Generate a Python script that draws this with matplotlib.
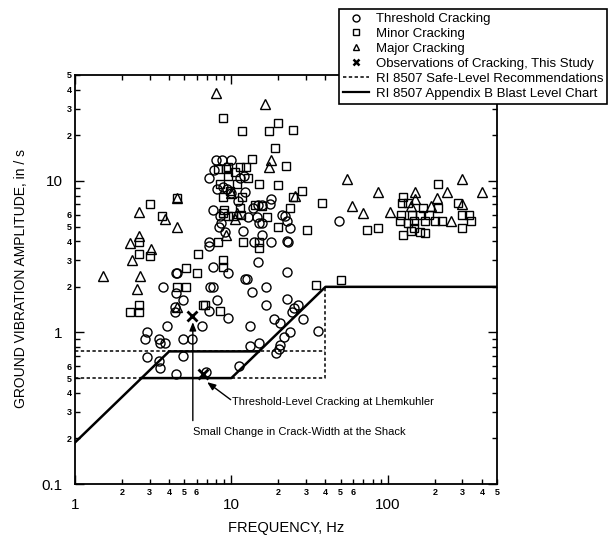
import numpy as np
import matplotlib
matplotlib.use("Agg")
import matplotlib.pyplot as plt
from matplotlib.lines import Line2D
from matplotlib.ticker import LogLocator, FuncFormatter

plt.rcParams['font.family'] = ['Liberation Sans', 'DejaVu Sans']

# (frequency Hz, amplitude in/s)
threshold = [
    (8.0, 13.8), (8.7, 13.8), (10.0, 13.8), (7.2, 10.5), (7.8, 11.8), (11.3, 10.5), (12.0, 10.8),
    (8.1, 8.9), (8.9, 9.1), (9.4, 8.8), (10.0, 8.3), (12.2, 8.5), (11.0, 7.4),
    (7.6, 6.4), (8.4, 5.9), (8.6, 5.3), (8.3, 5.0), (9.1, 4.6), (11.9, 4.7),
    (12.8, 5.8), (13.7, 6.6), (14.8, 6.9), (15.6, 6.9), (14.5, 5.8), (15.0, 5.3), (15.8, 5.3), (15.6, 4.4),
    (17.9, 7.6), (17.7, 7.0), (21.0, 6.0), (22.6, 5.4), (22.0, 5.9), (23.6, 4.9), (22.6, 4.0),
    (18.0, 3.95), (23.0, 3.95), (14.0, 3.95), (7.2, 3.95), (7.2, 3.7),
    (14.8, 2.9), (22.6, 2.5), (4.5, 2.45), (7.6, 2.7), (9.5, 2.45), (12.2, 2.25), (12.6, 2.25), (49, 5.4),
    (3.65, 2.0), (4.4, 2.45), (4.4, 1.83), (4.9, 1.64), (4.36, 1.47), (4.36, 1.36),
    (7.3, 2.0), (7.6, 2.0), (8.1, 1.64), (7.2, 1.39), (9.5, 1.25), (6.5, 1.1), (3.9, 1.1),
    (2.9, 1.0), (2.8, 0.9), (3.45, 0.9), (3.5, 0.85), (3.75, 0.85), (4.9, 0.9), (5.6, 0.9),
    (2.9, 0.69), (3.45, 0.65), (3.5, 0.58), (4.9, 0.7), (4.4, 0.53), (6.9, 0.55), (11.2, 0.6),
    (13.1, 0.81), (15.0, 0.85), (13.1, 1.1), (18.7, 1.22), (20.6, 1.16), (23.6, 1.0), (21.7, 0.93),
    (20.6, 0.83), (20.2, 0.78), (19.2, 0.73), (22.6, 1.66), (24.4, 1.36), (26.6, 1.52), (25.2, 1.44),
    (28.6, 1.22), (35.8, 1.02), (16.6, 1.52), (16.6, 2.0), (13.5, 1.86),
]

minor = [
    (2.25, 1.36), (2.56, 1.36), (2.56, 1.52), (2.56, 3.3), (2.56, 3.95), (3.0, 7.0), (3.6, 5.9),
    (4.5, 7.7), (3.0, 3.2), (6.1, 3.3), (5.1, 2.65), (6.0, 2.45), (4.5, 2.0), (5.1, 2.0),
    (6.6, 1.52), (6.8, 1.52), (8.4, 1.39), (8.8, 3.0), (8.8, 2.7), (8.2, 3.95), (11.8, 3.95),
    (15.0, 3.95), (15.0, 3.6), (8.8, 26), (11.7, 21.5), (17.5, 21.5), (20, 24), (19, 16.5),
    (13.5, 14), (22.3, 12.6), (20, 9.4), (15, 9.6), (28.5, 8.6), (24.7, 7.8), (24.7, 21.7),
    (23.6, 6.6), (30.3, 4.75), (19.8, 5.0), (17, 5.8), (15.7, 6.8), (14.1, 6.9),
    (9.5, 12.3), (11.3, 12.3), (12.4, 12.3), (8.2, 11.9), (9.3, 11.9), (10.5, 11.5), (8.4, 9.5),
    (9.5, 10.7), (10.8, 9.5), (12.8, 10.5), (8.8, 7.8), (11.7, 7.8), (8.9, 6.1), (9.5, 5.9),
    (10.3, 5.9), (11.5, 6.0), (9.0, 6.4), (11.3, 6.6), (35, 2.05), (50, 2.22), (38, 7.2), (9.8, 8.6),
    (74, 4.75), (87, 4.9), (210, 9.5), (125, 7.8), (123, 7.2), (134, 7.2), (167, 6.6), (209, 6.6),
    (121, 6.0), (142, 6.0), (119, 5.4), (134, 5.3), (148, 5.4), (172, 5.4), (200, 5.4), (224, 5.4),
    (300, 6.0), (330, 6.0), (340, 5.4), (300, 4.9), (280, 7.2), (125, 4.4), (148, 4.9), (172, 4.5),
    (160, 4.6), (185, 6.0), (160, 6.0), (140, 4.7),
]

major = [
    (8, 38), (16.5, 32), (18, 13.8), (17.5, 12.3), (2.55, 6.2), (3.75, 5.6), (4.5, 5.0), (4.5, 7.7),
    (2.25, 3.9), (2.55, 4.3), (3.05, 3.55), (2.3, 3.0), (1.5, 2.35), (2.6, 2.35), (2.5, 1.95),
    (4.5, 1.47), (10, 8.3), (10.8, 6.1), (9.3, 4.4), (10.5, 5.6), (25.5, 7.9),
    (55, 10.3), (87, 8.5), (59, 6.8), (70, 6.1), (104, 6.2), (150, 8.5), (150, 7.6), (188, 6.8),
    (208, 7.7), (238, 8.5), (297, 10.3), (297, 7.0), (400, 8.5), (255, 5.4), (140, 6.8),
]

study_f = [5.6, 6.6]
study_v = [1.28, 0.53]

# RI 8507 Appendix B blast level chart
blast_upper_f = [1, 4, 15]
blast_upper_v = [0.188, 0.75, 0.75]
blast_lower_f = [2.65, 10, 40, 500]
blast_lower_v = [0.5, 0.5, 2.0, 2.0]
# RI 8507 safe-level recommendations
safe_a_f = [1, 40, 40]
safe_a_v = [0.5, 0.5, 2.0]
safe_b_f = [1, 40]
safe_b_v = [0.75, 0.75]

fig = plt.figure(figsize=(6.13, 5.4), dpi=100)
ax = fig.add_axes([75 / 613, 56 / 540, 422 / 613, 409 / 540])
ax.set_xscale('log')
ax.set_yscale('log')
ax.set_xlim(1, 500)
ax.set_ylim(0.1, 50)

dash = (0, (2.2, 1.6))
ax.plot(safe_a_f, safe_a_v, color='black', lw=1.1, ls=dash)
ax.plot(safe_b_f, safe_b_v, color='black', lw=1.1, ls=dash)
ax.plot(blast_upper_f, blast_upper_v, color='black', lw=1.8)
ax.plot(blast_lower_f, blast_lower_v, color='black', lw=1.8)

mk = dict(ls='none', mfc='none', mec='black', mew=1.0)
ax.plot(*zip(*threshold), marker='o', ms=6.5, **mk)
ax.plot(*zip(*minor), marker='s', ms=6.2, **mk)
ax.plot(*zip(*major), marker='^', ms=6.5, **mk)
ax.plot(study_f, study_v, ls='none', marker='x', ms=7, mew=2.0, color='black')

ap = dict(arrowstyle='-|>,head_length=0.5,head_width=0.2', color='black', lw=1.0,
          shrinkA=0, shrinkB=0)
ax.annotate('', xy=(5.67, 1.17), xytext=(5.67, 0.262), arrowprops=ap)
ax.text(5.67, 0.22, 'Small Change in Crack-Width at the Shack', fontsize=8,
        ha='left', va='center')
ax.annotate('', xy=(7.0, 0.47), xytext=(9.9, 0.36), arrowprops=ap)
ax.text(10.1, 0.347, 'Threshold-Level Cracking at Lhemkuhler', fontsize=8,
        ha='left', va='center')


def minor_label(v, pos):
    e = np.floor(np.log10(v) + 1e-9)
    d = int(round(v / 10 ** e))
    return str(d) if d in (2, 3, 4, 5, 6) else ''


ax.xaxis.set_major_locator(LogLocator(base=10, numticks=10))
ax.yaxis.set_major_locator(LogLocator(base=10, numticks=10))
ax.xaxis.set_minor_locator(LogLocator(base=10, subs=np.arange(2, 10), numticks=50))
ax.yaxis.set_minor_locator(LogLocator(base=10, subs=np.arange(2, 10), numticks=50))
ax.xaxis.set_major_formatter(FuncFormatter(lambda v, p: '%g' % v))
ax.yaxis.set_major_formatter(FuncFormatter(lambda v, p: '%g' % v))
ax.xaxis.set_minor_formatter(FuncFormatter(minor_label))
ax.yaxis.set_minor_formatter(FuncFormatter(minor_label))

ax.tick_params(which='both', direction='in', top=True, right=True, width=1.0, colors='black')
ax.tick_params(which='major', length=6.5, labelsize=11)
ax.tick_params(which='minor', length=3.5, labelsize=6.5)
ax.tick_params(axis='x', which='major', pad=10)
ax.tick_params(axis='x', which='minor', pad=3)
ax.tick_params(axis='y', which='major', pad=9)
ax.tick_params(axis='y', which='minor', pad=2.5)
for lab in ax.xaxis.get_minorticklabels() + ax.yaxis.get_minorticklabels():
    lab.set_fontweight('bold')
for s in ax.spines.values():
    s.set_linewidth(1.3)

fig.text(286 / 613, 1 - 528 / 540, 'FREQUENCY, Hz', fontsize=10.5, ha='center', va='center')
fig.text(21 / 613, 1 - 278 / 540, 'GROUND VIBRATION AMPLITUDE, in / s', fontsize=10,
         rotation=90, ha='center', va='center')

handles = [
    Line2D([], [], marker='o', ms=5, **mk),
    Line2D([], [], marker='s', ms=5, **mk),
    Line2D([], [], marker='^', ms=5, **mk),
    Line2D([], [], ls='none', marker='x', ms=5, mew=1.8, color='black'),
    Line2D([], [], color='black', lw=1.1, ls=dash),
    Line2D([], [], color='black', lw=1.6),
]
labels = ['Threshold Cracking', 'Minor Cracking', 'Major Cracking',
          'Observations of Cracking, This Study', 'RI 8507 Safe-Level Recommendations',
          'RI 8507 Appendix B Blast Level Chart']
leg = ax.legend(handles, labels, loc='upper right', bbox_to_anchor=(607 / 613, 1 - 9 / 540),
                bbox_transform=fig.transFigure, fontsize=9.5, frameon=True, fancybox=False,
                edgecolor='black', framealpha=1, handlelength=2.0, handletextpad=0.5,
                labelspacing=0.2, borderpad=0.3, borderaxespad=0)
leg.get_frame().set_linewidth(1.2)

fig.savefig('out.png', dpi=100)
